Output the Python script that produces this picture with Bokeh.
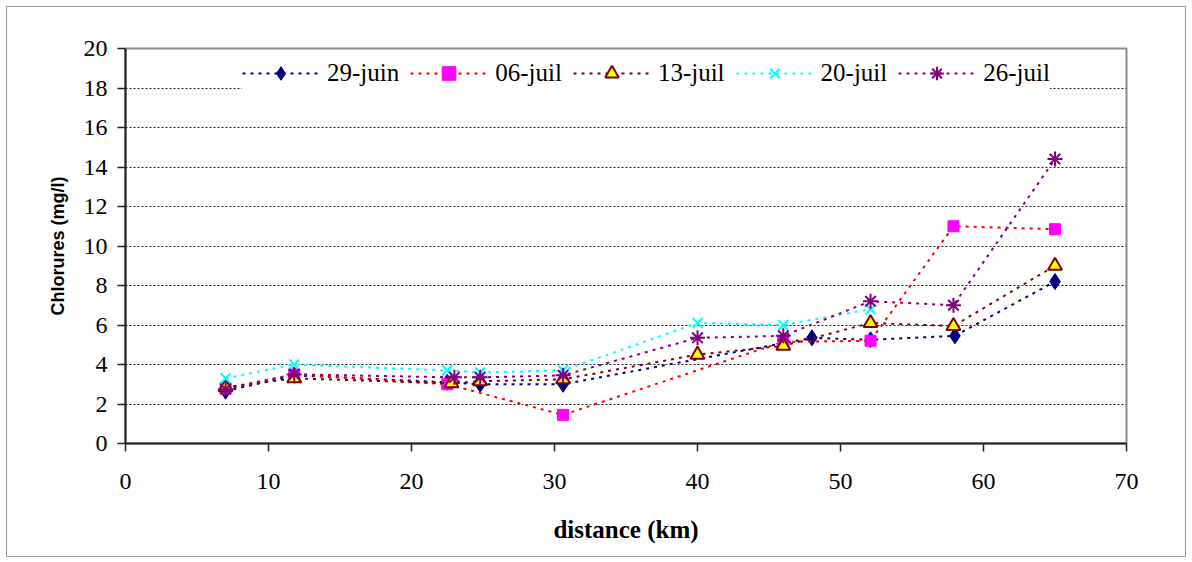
from bokeh.plotting import figure
from bokeh.models import Range1d, SingleIntervalTicker
from bokeh.embed import file_html
from bokeh.resources import INLINE

# ---- data ----
series_names = ["29-juin", "06-juil", "13-juil", "20-juil", "26-juil"]

x_29juin = [7.0, 11.8, 22.5, 24.8, 30.6, 48.0, 52.1, 58.0, 65.0]
y_29juin = [2.65, 3.45, 3.1, 3.0, 3.0, 5.35, 5.25, 5.45, 8.2]

x_06juil = [7.0, 11.8, 22.5, 30.6, 46.0, 52.1, 57.9, 65.0]
y_06juil = [2.8, 3.5, 3.0, 1.45, 5.15, 5.2, 11.0, 10.85]

x_13juil = [7.0, 11.8, 22.8, 24.8, 30.6, 40.0, 46.0, 52.1, 57.9, 65.0]
y_13juil = [2.85, 3.3, 3.05, 3.15, 3.25, 4.5, 4.95, 6.1, 5.95, 9.0]

x_20juil = [7.0, 11.8, 22.5, 24.8, 30.6, 40.0, 46.0, 52.1]
y_20juil = [3.3, 4.0, 3.7, 3.6, 3.7, 6.1, 6.0, 6.8]

x_26juil = [7.0, 11.8, 23.0, 24.8, 30.6, 40.0, 46.0, 52.1, 57.9, 65.0]
y_26juil = [2.75, 3.5, 3.35, 3.35, 3.45, 5.35, 5.45, 7.2, 7.0, 14.4]

x_ticks_step = 10
y_ticks_step = 2

p = figure(width=1178, height=549, output_backend="svg", toolbar_location=None,
           x_range=Range1d(0, 70), y_range=Range1d(0, 20),
           min_border_left=118, min_border_right=59, min_border_top=41,
           min_border_bottom=113,
           x_axis_label="distance (km)", y_axis_label="Chlorures (mg/l)")
p.styles = {"outline": "1px solid #9a9a9a", "margin-left": "7px", "margin-top": "7px"}
p.background_fill_color = "white"
p.border_fill_color = "white"
p.outline_line_color = "#8c8c8c"
p.outline_line_width = 2

p.xgrid.visible = False
p.ygrid.grid_line_color = "#222222"
p.ygrid.grid_line_dash = "2 2"
p.ygrid.grid_line_width = 1

p.xaxis.ticker = SingleIntervalTicker(interval=x_ticks_step)
p.yaxis.ticker = SingleIntervalTicker(interval=y_ticks_step)
for ax in (p.xaxis, p.yaxis):
    ax.axis_line_color = "#222222"
    ax.axis_line_width = 2
    ax.major_tick_line_color = "#222222"
    ax.major_tick_line_width = 1.5
    ax.major_tick_out = 8
    ax.major_tick_in = 0
    ax.minor_tick_line_color = None
    ax.major_label_text_font = "Liberation Serif"
    ax.major_label_text_font_size = "24px"
    ax.major_label_text_color = "black"
    ax.axis_label_text_color = "black"
p.xaxis.major_label_standoff = 22
p.yaxis.major_label_standoff = 10
p.xaxis.axis_label_text_font = "Liberation Serif"
p.xaxis.axis_label_text_font_style = "bold"
p.xaxis.axis_label_text_font_size = "25px"
p.xaxis.axis_label_standoff = 24
p.yaxis.axis_label_text_font = "Liberation Sans"
p.yaxis.axis_label_text_font_style = "bold"
p.yaxis.axis_label_text_font_size = "18px"
p.yaxis.axis_label_standoff = 13

dash = "3 5"
# 29-juin
p.line(x_29juin, y_29juin, line_color="#000080", line_width=2, line_dash=dash,
       legend_label=series_names[0])
p.scatter(x_29juin, y_29juin, marker="diamond", size=16, fill_color="#000080",
          line_color="#000080", legend_label=series_names[0])
# 06-juil
p.line(x_06juil, y_06juil, line_color="#FF0000", line_width=2, line_dash=dash,
       legend_label=series_names[1])
p.scatter(x_06juil, y_06juil, marker="square", size=11, fill_color="#FF00FF",
          line_color="#FF00FF", legend_label=series_names[1])
# 13-juil
p.line(x_13juil, y_13juil, line_color="#800000", line_width=2, line_dash=dash,
       legend_label=series_names[2])
p.scatter(x_13juil, y_13juil, marker="triangle", size=14, fill_color="#FFFF00",
          line_color="#800000", line_width=2, legend_label=series_names[2])
# 20-juil
p.line(x_20juil, y_20juil, line_color="#00FFFF", line_width=2, line_dash=dash,
       legend_label=series_names[3])
p.scatter(x_20juil, y_20juil, marker="x", size=14, line_color="#00FFFF",
          line_width=2, legend_label=series_names[3])
# 26-juil
p.line(x_26juil, y_26juil, line_color="#800080", line_width=2, line_dash=dash,
       legend_label=series_names[4])
p.scatter(x_26juil, y_26juil, marker="asterisk", size=15, line_color="#800080",
          line_width=2, legend_label=series_names[4])

leg = p.legend[0]
leg.orientation = "horizontal"
leg.location = (117, 353)
leg.glyph_width = 77
leg.glyph_height = 34
leg.label_height = 34
leg.label_standoff = 8
leg.spacing = 11
leg.padding = 12
leg.margin = 0
leg.label_text_font = "Liberation Serif"
leg.label_text_font_size = "25px"
leg.label_text_color = "black"
leg.background_fill_color = "white"
leg.background_fill_alpha = 1.0
leg.border_line_color = None

open("out.html", "w").write(file_html(p, INLINE))
